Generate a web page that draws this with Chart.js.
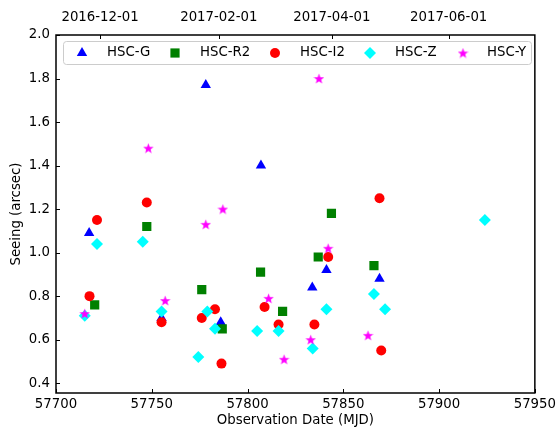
<!DOCTYPE html>
<html>
<head>
<meta charset="utf-8">
<script src="https://cdn.jsdelivr.net/npm/chart.js@4"></script>
<style>
  html, body { margin: 0; padding: 0; background: #fff; }
  #chart { display: block; }
</style>
</head>
<body>
<canvas id="chart" width="560" height="429"></canvas>
<script>
// Data (MJD, seeing in arcsec)
const gMjd = [57717.3, 57755.1, 57778.2, 57786, 57807, 57833.8, 57841.2, 57868.9];
const gSeeing = [1.09, 0.70, 1.77, 0.68, 1.40, 0.84, 0.92, 0.88];

const r2Mjd = [57720.2, 57747.4, 57776.1, 57786.8, 57806.8, 57818.3, 57836.9, 57843.8, 57866];
const r2Seeing = [0.76, 1.12, 0.83, 0.65, 0.91, 0.73, 0.98, 1.18, 0.94];

const i2Mjd = [57717.5, 57721.4, 57747.4, 57755.1, 57776.1, 57783, 57786.4, 57808.9, 57816.2, 57834.9, 57842.1, 57868.9, 57869.8];
const i2Seeing = [0.80, 1.15, 1.23, 0.68, 0.70, 0.74, 0.49, 0.75, 0.67, 0.67, 0.98, 1.25, 0.55];

const zMjd = [57715, 57721.4, 57745.3, 57755.1, 57774.3, 57779, 57783, 57805, 57816.2, 57834, 57841.2, 57866, 57871.8, 57923.9];
const zSeeing = [0.71, 1.04, 1.05, 0.73, 0.52, 0.73, 0.65, 0.64, 0.64, 0.56, 0.74, 0.81, 0.74, 1.15];

const yMjd = [57715, 57748.2, 57757, 57778.2, 57787.1, 57811, 57819.1, 57833, 57837.3, 57842.1, 57862.9];
const ySeeing = [0.72, 1.48, 0.78, 1.13, 1.20, 0.79, 0.51, 0.60, 1.80, 1.02, 0.62];

const bandNames = ['HSC-G', 'HSC-R2', 'HSC-I2', 'HSC-Z', 'HSC-Y'];

// top axis: calendar dates at their MJD
const topTickValues = [57723, 57785, 57844, 57905];
const topTickLabels = ['2016-12-01', '2017-02-01', '2017-04-01', '2017-06-01'];

const bottomTicks = [57700, 57750, 57800, 57850, 57900, 57950];
const leftTicks = [0.4, 0.6, 0.8, 1.0, 1.2, 1.4, 1.6, 1.8, 2.0];

const FONT = "'DejaVu Sans', sans-serif";
const FS = 13.3;

// filled five-pointed star like matplotlib '*'
function makeStar(size, color) {
  const c = document.createElement('canvas');
  c.width = size; c.height = size;
  const ctx = c.getContext('2d');
  const cx = size / 2, cy = size / 2 + 0.5;
  const outer = size / 2, inner = outer * 0.42;
  ctx.beginPath();
  for (let i = 0; i < 10; i++) {
    const r = i % 2 === 0 ? outer : inner;
    const a = -Math.PI / 2 + i * Math.PI / 5;
    const px = cx + r * Math.cos(a), py = cy + r * Math.sin(a);
    if (i === 0) ctx.moveTo(px, py); else ctx.lineTo(px, py);
  }
  ctx.closePath();
  ctx.fillStyle = color;
  ctx.fill();
  return c;
}
const starImg = makeStar(11, '#ff00ff');

function pts(xs, ys) {
  return xs.map((x, i) => ({ x: x, y: ys[i] }));
}

const styles = [
  { pointStyle: 'triangle', radius: 6, color: '#0000ff' },
  { pointStyle: 'rect', radius: 6.5, color: '#008000' },
  { pointStyle: 'circle', radius: 5, color: '#ff0000' },
  { pointStyle: 'rectRot', radius: 6, color: '#00ffff' },
  { pointStyle: starImg, radius: 5, color: '#ff00ff' }
];
const seriesData = [
  pts(gMjd, gSeeing), pts(r2Mjd, r2Seeing), pts(i2Mjd, i2Seeing),
  pts(zMjd, zSeeing), pts(yMjd, ySeeing)
];

const datasets = bandNames.map((name, i) => ({
  label: name,
  data: seriesData[i],
  pointStyle: styles[i].pointStyle,
  pointRadius: styles[i].radius,
  pointHoverRadius: styles[i].radius,
  backgroundColor: styles[i].color,
  borderColor: styles[i].color,
  borderWidth: 0,
  showLine: false,
  order: 5 - i   // later bands on top, like matplotlib
}));

// inward ticks, frame and boxed legend inside the plot
const framePlugin = {
  id: 'frame',
  afterDraw(chart) {
    const ctx = chart.ctx;
    const a = chart.chartArea;
    const xs = chart.scales.x, xt = chart.scales.xTop, ys = chart.scales.y;
    ctx.save();
    ctx.strokeStyle = '#000';
    ctx.lineWidth = 1;
    const tl = 4;
    ctx.beginPath();
    bottomTicks.forEach(v => {
      const px = Math.round(xs.getPixelForValue(v)) + 0.5;
      ctx.moveTo(px, a.bottom); ctx.lineTo(px, a.bottom - tl);
    });
    topTickValues.forEach(v => {
      const px = Math.round(xt.getPixelForValue(v)) + 0.5;
      ctx.moveTo(px, a.top); ctx.lineTo(px, a.top + tl);
    });
    leftTicks.forEach(v => {
      const py = Math.round(ys.getPixelForValue(v)) + 0.5;
      ctx.moveTo(a.left, py); ctx.lineTo(a.left + tl, py);
    });
    ctx.stroke();
    ctx.lineWidth = 1.5;
    ctx.strokeRect(a.left, a.top, a.right - a.left, a.bottom - a.top);

    // legend box
    const lx = 63, ly = 41, lw = 468, lh = 23;
    ctx.beginPath();
    ctx.roundRect(lx + 0.5, ly + 0.5, lw, lh, 3);
    ctx.fillStyle = 'rgba(255,255,255,0.8)';
    ctx.fill();
    ctx.strokeStyle = '#cccccc';
    ctx.lineWidth = 1;
    ctx.stroke();
    const markerX = [82, 175, 275, 370, 463];
    const textX = [107, 200, 300, 395, 487];
    ctx.font = FS + 'px ' + FONT;
    ctx.textBaseline = 'middle';
    ctx.textAlign = 'left';
    bandNames.forEach((name, i) => {
      const s = styles[i];
      ctx.fillStyle = s.color;
      ctx.strokeStyle = s.color;
      Chart.helpers.drawPoint(ctx, {
        pointStyle: s.pointStyle, radius: s.radius, rotation: 0, borderWidth: 0
      }, markerX[i], ly + 12);
      ctx.fillStyle = '#000';
      ctx.fillText(name, textX[i], ly + 12);
    });
    ctx.restore();
  }
};

new Chart(document.getElementById('chart'), {
  type: 'scatter',
  data: { datasets: datasets },
  options: {
    responsive: false,
    animation: false,
    events: [],
    layout: { padding: { left: 0, right: 22, top: 0, bottom: 0 } },
    plugins: {
      legend: { display: false },
      tooltip: { enabled: false }
    },
    scales: {
      x: {
        type: 'linear',
        position: 'bottom',
        min: 57700,
        max: 57950,
        afterBuildTicks: s => { s.ticks = bottomTicks.map(v => ({ value: v })); },
        afterFit: s => { s.height = 36; },
        grid: { display: false, drawTicks: false },
        border: { display: false },
        ticks: {
          color: '#000', font: { family: FONT, size: FS }, padding: 4, maxRotation: 0,
          callback: v => String(v)
        },
        title: {
          display: true, text: 'Observation Date (MJD)', color: '#000',
          font: { family: FONT, size: FS }, padding: { top: 0, bottom: 0 }
        }
      },
      xTop: {
        type: 'linear',
        position: 'top',
        min: 57700,
        max: 57950,
        afterBuildTicks: s => { s.ticks = topTickValues.map(v => ({ value: v })); },
        afterFit: s => { s.height = 35; },
        grid: { display: false, drawTicks: false },
        border: { display: false },
        ticks: {
          color: '#000', font: { family: FONT, size: FS }, padding: 9, maxRotation: 0,
          callback: v => topTickLabels[topTickValues.indexOf(v)]
        }
      },
      y: {
        type: 'linear',
        min: 0.355,
        max: 2.0,
        afterBuildTicks: s => { s.ticks = leftTicks.map(v => ({ value: v })); },
        afterFit: s => { s.width = 56; },
        grid: { display: false, drawTicks: false },
        border: { display: false },
        ticks: {
          color: '#000', font: { family: FONT, size: FS }, padding: 6,
          callback: v => v.toFixed(1)
        },
        title: {
          display: true, text: 'Seeing (arcsec)', color: '#000',
          font: { family: FONT, size: FS }, padding: { top: 9, bottom: 0 }
        }
      }
    }
  },
  plugins: [framePlugin]
});
</script>
</body>
</html>
